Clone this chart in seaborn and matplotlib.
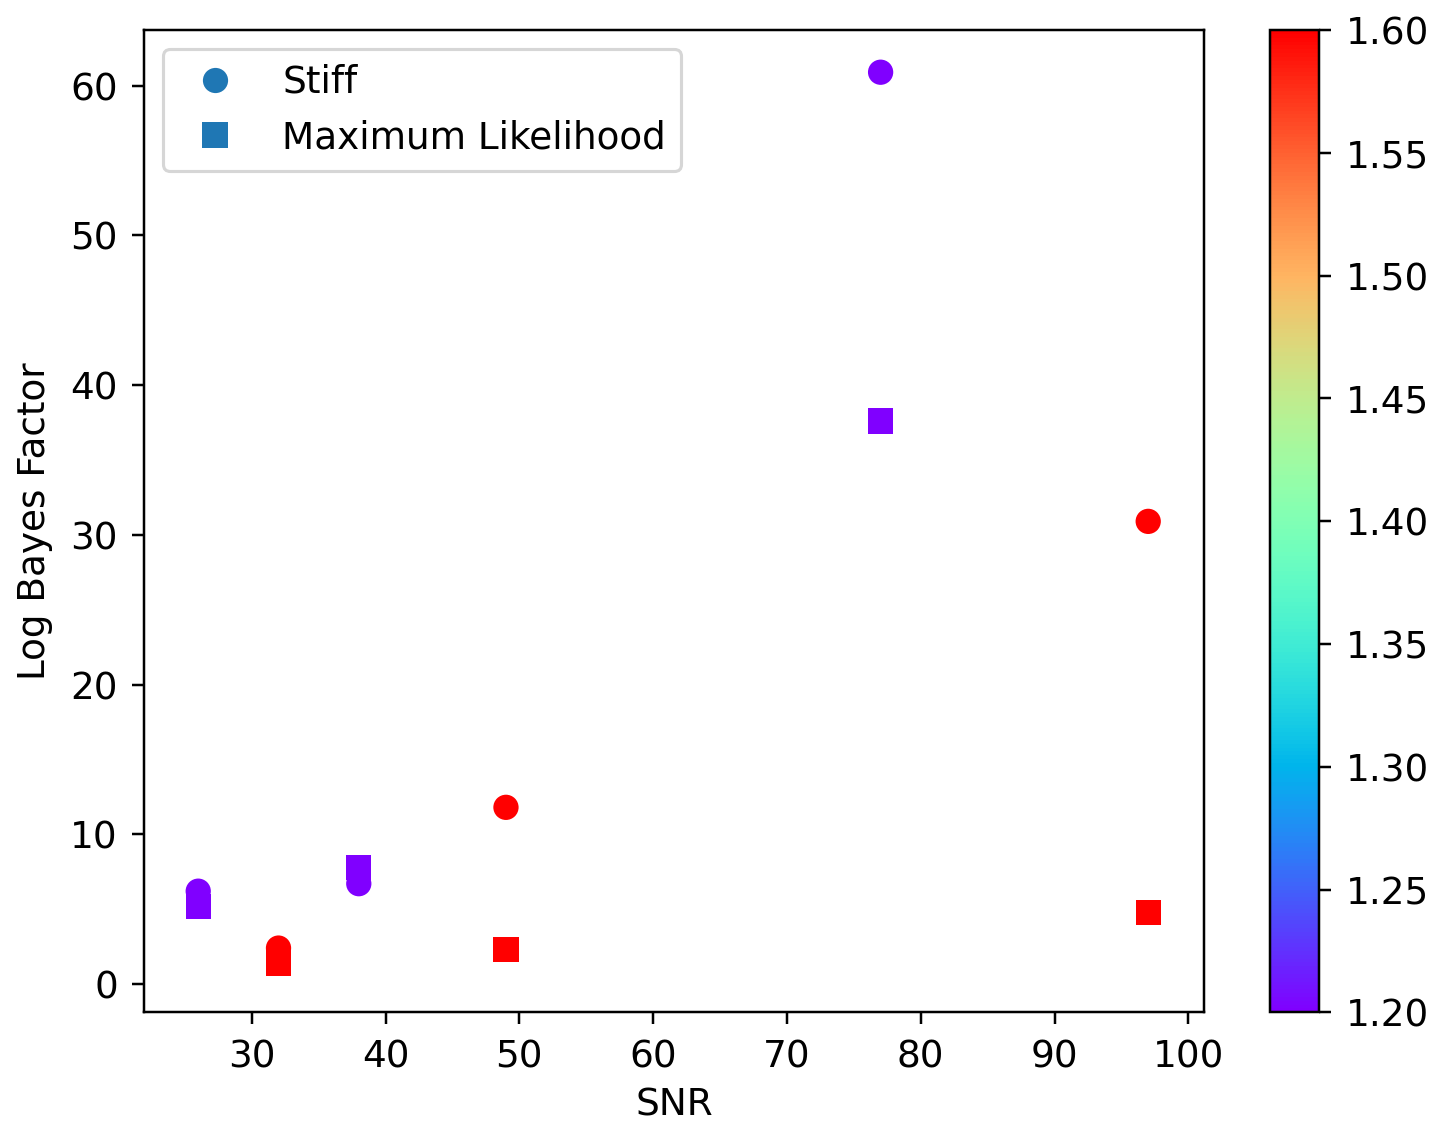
import matplotlib
matplotlib.use("Agg")
import matplotlib.pyplot as plt
from matplotlib.lines import Line2D
import seaborn as sns

# Signal-to-noise ratio of each injection
snr = [26, 32, 38, 49, 77, 97]
# Log Bayes factors for the two recovery methods
stiff_logbf = [6.2, 2.4, 6.7, 11.8, 60.9, 30.9]
maxlike_logbf = [5.2, 1.4, 7.8, 2.3, 37.6, 4.8]
# Colour variable for each injection
mass = [1.2, 1.6, 1.2, 1.6, 1.2, 1.6]

plt.rcParams["font.family"] = ["DejaVu Sans"]
plt.rcParams["font.size"] = 12
for axis in ("xtick", "ytick"):
    plt.rcParams[f"{axis}.major.size"] = 4
    plt.rcParams[f"{axis}.major.pad"] = 4.5
plt.rcParams["axes.labelpad"] = 5.5

W, H, DPI = 1435, 1126, 224
fig = plt.figure(figsize=(W / DPI, H / DPI), dpi=DPI)

left, right, top, bottom = 144.3, 1204.0, 30.0, 1012.3
ax = fig.add_axes([left / W, 1 - bottom / H, (right - left) / W, (bottom - top) / H])
cax = fig.add_axes([1270 / W, 1 - bottom / H, 49.3 / W, (bottom - top) / H])

common = dict(cmap="rainbow", vmin=1.2, vmax=1.6, s=66, linewidth=0, ax=ax)
sns.scatterplot(x=snr, y=stiff_logbf, c=mass, marker="o", **common)
sns.scatterplot(x=snr, y=maxlike_logbf, c=mass, marker="s", **common)

fig.colorbar(ax.collections[0], cax=cax)

ax.set_xlim(21.97, 101.17)
ax.set_ylim(-1.89, 63.72)
ax.set_xlabel("SNR", labelpad=3.5)
ax.set_ylabel("Log Bayes Factor")

handles = [
    Line2D([], [], linestyle="none", marker="o", markersize=8.1,
           color="#1f77b4", markeredgewidth=0, label="Stiff"),
    Line2D([], [], linestyle="none", marker="s", markersize=8.1,
           color="#1f77b4", markeredgewidth=0, label="Maximum Likelihood"),
]
ax.legend(handles=handles, loc="upper left")

fig.savefig("out.png", dpi=DPI)
